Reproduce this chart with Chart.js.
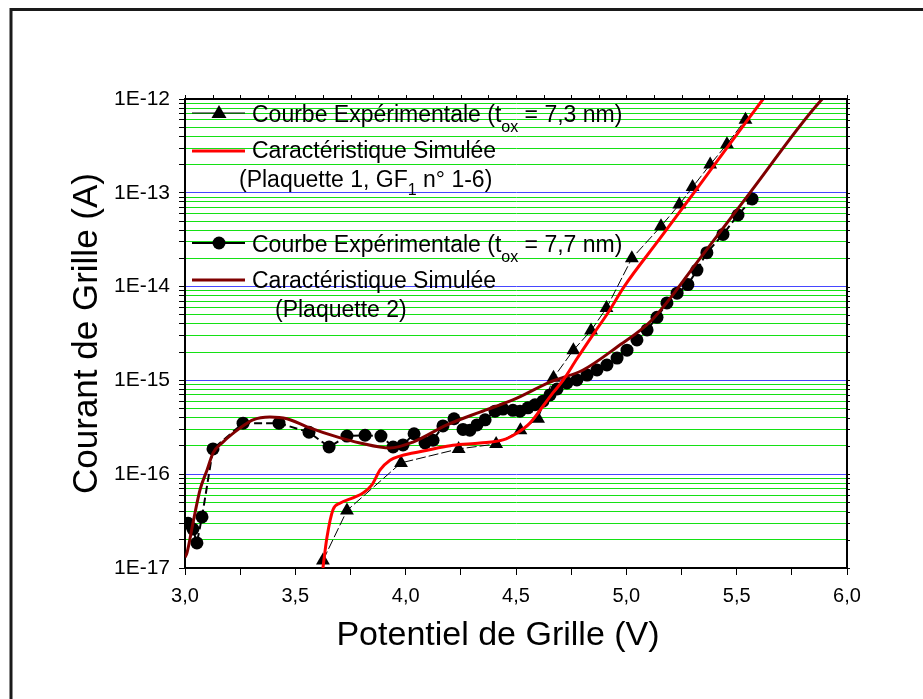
<!DOCTYPE html>
<html>
<head>
<meta charset="utf-8">
<script src="https://cdn.jsdelivr.net/npm/chart.js@4.4.0/dist/chart.umd.min.js"></script>
<style>
  html, body { margin: 0; padding: 0; background: #fff; }
  #wrap { width: 923px; height: 699px; position: relative; }
</style>
</head>
<body>
<div id="wrap"><canvas id="graphe"></canvas></div>
<script>
// Plaquette 1 (tox = 7,3 nm) - points mesures
const vgTri = [3.625, 3.734, 3.979, 4.24, 4.41, 4.52, 4.60, 4.67, 4.76, 4.84, 4.91, 5.025, 5.157, 5.24, 5.30, 5.38, 5.456, 5.54];
const igTri = [1.2e-17, 4.1e-17, 1.32e-16, 1.86e-16, 2.1e-16, 2.95e-16, 3.9e-16, 1.07e-15, 2.1e-15, 3.4e-15, 5.9e-15, 2.0e-14, 4.4e-14, 7.5e-14, 1.15e-13, 2.0e-13, 3.3e-13, 6.0e-13];

// Plaquette 2 (tox = 7,7 nm) - points mesures
const vgRond = [3.014, 3.036, 3.054, 3.077, 3.127, 3.263, 3.426, 3.562, 3.653, 3.734, 3.816, 3.888, 3.943, 3.988, 4.038, 4.088, 4.124, 4.169, 4.219, 4.26,
  4.291, 4.323, 4.36, 4.405, 4.441, 4.486, 4.518, 4.554, 4.586, 4.622, 4.654, 4.686, 4.731, 4.776, 4.822, 4.867, 4.912, 4.958, 5.003, 5.048,
  5.094, 5.139, 5.184, 5.23, 5.279, 5.32, 5.365, 5.438, 5.506, 5.57];
const igRond = [3.0e-17, 2.6e-17, 1.85e-17, 3.5e-17, 1.86e-16, 3.5e-16, 3.5e-16, 2.8e-16, 1.95e-16, 2.55e-16, 2.6e-16, 2.55e-16, 1.95e-16, 2.05e-16, 2.7e-16, 2.15e-16, 2.3e-16, 3.27e-16, 3.9e-16, 3.0e-16,
  2.95e-16, 3.35e-16, 3.8e-16, 4.7e-16, 4.95e-16, 4.8e-16, 4.7e-16, 5.1e-16, 5.5e-16, 6.0e-16, 7.0e-16, 8.1e-16, 9.4e-16, 1.01e-15, 1.14e-15, 1.29e-15, 1.46e-15, 1.73e-15, 2.1e-15, 2.7e-15,
  3.45e-15, 4.7e-15, 6.7e-15, 8.5e-15, 1.05e-14, 1.5e-14, 2.3e-14, 3.6e-14, 5.8e-14, 8.6e-14];

// Caracteristique simulee, plaquette 1
const vgSim1 = [3.625, 3.643, 3.671, 3.702, 3.761, 3.807, 3.847, 3.884, 3.929, 3.974, 4.033, 4.124, 4.214, 4.337, 4.441, 4.505, 4.563, 4.622, 4.668, 4.713, 4.776, 4.85, 4.92, 4.99, 5.15, 5.306, 5.47, 5.62, 5.66];
const igSim1 = [1.0e-17, 2.1e-17, 4.2e-17, 4.9e-17, 5.6e-17, 6.3e-17, 7.7e-17, 1.11e-16, 1.41e-16, 1.56e-16, 1.68e-16, 1.86e-16, 2.04e-16, 2.15e-16, 2.32e-16, 2.75e-16, 3.5e-16, 5.3e-16, 7.4e-16, 1.0e-15, 1.7e-15, 3.1e-15, 5.4e-15, 1.0e-14, 3.2e-14, 1.0e-13, 3.35e-13, 1.0e-12, 1.35e-12];

// Caracteristique simulee, plaquette 2
const vgSim2 = [3.0, 3.009, 3.036, 3.068, 3.10, 3.127, 3.172, 3.249, 3.308, 3.385, 3.462, 3.553, 3.689, 3.793, 3.929, 4.033, 4.187, 4.337, 4.486, 4.654, 4.804, 4.958, 5.116, 5.334, 5.56, 5.891, 5.95];
const igSim2 = [1.3e-17, 1.45e-17, 3.0e-17, 6.8e-17, 1.11e-16, 1.68e-16, 2.2e-16, 3.1e-16, 3.8e-16, 4.07e-16, 3.9e-16, 3.2e-16, 2.5e-16, 2.15e-16, 1.9e-16, 2.2e-16, 3.35e-16, 4.6e-16, 6.2e-16, 9.6e-16, 1.29e-15, 2.27e-15, 4.4e-15, 2.0e-14, 1.0e-13, 1.02e-12, 1.35e-12];

// Axes
const vgMin = 3, vgMax = 6;
const igMin = 1e-17, igMax = 1e-12;
const decades = [-17, -16, -15, -14, -13];
const mantisses = [1, 2, 3, 4, 5, 6, 7, 8, 9];

const FONTE = '"Liberation Sans", Arial, sans-serif';

function points(xs, ys) {
  return xs.map((x, i) => ({ x: x, y: ys[i] }));
}

function estDecade(v) {
  const l = Math.log10(v);
  return Math.abs(l - Math.round(l)) < 1e-6;
}

// graduations du courant : 1..9 x 10^n, plus 1E-12
const ticksCourant = [];
decades.forEach(e => mantisses.forEach(m => ticksCourant.push(m * Math.pow(10, e))));
ticksCourant.push(igMax);

// cadre de la figure, bords haut/droite du graphe, petits tirets, titre X
const cadrePlugin = {
  id: 'cadre',
  afterDraw(chart) {
    const ctx = chart.ctx;
    const a = chart.chartArea;
    ctx.save();
    ctx.strokeStyle = '#1a1a1a';
    ctx.lineWidth = 3;
    ctx.beginPath();
    ctx.moveTo(11, 699);
    ctx.lineTo(11, 9.5);
    ctx.lineTo(923, 9.5);
    ctx.stroke();

    ctx.strokeStyle = '#000';
    ctx.lineWidth = 2;
    ctx.beginPath();
    ctx.moveTo(a.left, a.top);
    ctx.lineTo(a.right, a.top);
    ctx.lineTo(a.right, a.bottom);
    ctx.stroke();

    ctx.lineWidth = 1;
    const sx = chart.scales.x, sy = chart.scales.y;
    ctx.beginPath();
    for (let v = vgMin; v <= vgMax + 1e-9; v += 0.125) {
      const px = Math.round(sx.getPixelForValue(v)) + 0.5;
      ctx.moveTo(px, a.top);
      ctx.lineTo(px, a.top - 4);
    }
    sy.ticks.forEach(t => {
      const py = Math.round(sy.getPixelForValue(t.value)) + 0.5;
      ctx.moveTo(a.right, py);
      ctx.lineTo(a.right + 3, py);
    });
    ctx.stroke();

    ctx.fillStyle = '#000';
    ctx.font = '34px ' + FONTE;
    ctx.textAlign = 'center';
    ctx.textBaseline = 'middle';
    ctx.fillText('Potentiel de Grille (V)', 498, 636);
    ctx.restore();
  }
};

// legende dessinee a la main (indices ox et 1)
const legendePlugin = {
  id: 'legende',
  afterDatasetsDraw(chart) {
    const ctx = chart.ctx;
    ctx.save();
    ctx.fillStyle = '#000';
    ctx.textBaseline = 'alphabetic';
    ctx.textAlign = 'left';

    function texte(parts, x, y) {
      parts.forEach(p => {
        ctx.font = (p.sub ? '16px ' : '23px ') + FONTE;
        ctx.fillText(p.t, x, y + (p.sub ? p.sub : 0));
        x += ctx.measureText(p.t).width;
      });
    }
    function trait(y, couleur, ep) {
      ctx.strokeStyle = couleur;
      ctx.lineWidth = ep;
      ctx.beginPath();
      ctx.moveTo(192, y);
      ctx.lineTo(245, y);
      ctx.stroke();
    }

    trait(113, '#000', 1);
    ctx.beginPath();
    ctx.moveTo(219, 105);
    ctx.lineTo(226.5, 118);
    ctx.lineTo(211.5, 118);
    ctx.closePath();
    ctx.fill();
    texte([{ t: 'Courbe Expérimentale (t' }, { t: 'ox', sub: 10 }, { t: ' = 7,3 nm)' }], 252, 122);

    trait(151, 'rgb(255,0,0)', 3);
    texte([{ t: 'Caractéristique Simulée' }], 252, 158);
    texte([{ t: '(Plaquette 1, GF' }, { t: '1', sub: 8 }, { t: ' n° 1-6)' }], 239, 187);

    trait(243, '#000', 2);
    ctx.beginPath();
    ctx.arc(219, 243, 6.5, 0, Math.PI * 2);
    ctx.fill();
    texte([{ t: 'Courbe Expérimentale (t' }, { t: 'ox', sub: 10 }, { t: ' = 7,7 nm)' }], 252, 252);

    trait(280, 'rgb(128,0,0)', 3);
    texte([{ t: 'Caractéristique Simulée' }], 252, 288);
    texte([{ t: '(Plaquette 2)' }], 275, 317);
    ctx.restore();
  }
};

const ctx = document.getElementById('graphe').getContext('2d');

new Chart(ctx, {
  type: 'scatter',
  data: {
    datasets: [{
      label: 'Caractéristique Simulée (Plaquette 1)',
      data: points(vgSim1, igSim1),
      showLine: true,
      borderColor: 'rgb(255,0,0)',
      borderWidth: 3,
      pointRadius: 0,
      cubicInterpolationMode: 'monotone',
      order: 0
    }, {
      label: 'Caractéristique Simulée (Plaquette 2)',
      data: points(vgSim2, igSim2),
      showLine: true,
      borderColor: 'rgb(128,0,0)',
      borderWidth: 3,
      pointRadius: 0,
      cubicInterpolationMode: 'monotone',
      order: 1
    }, {
      label: 'Courbe Expérimentale (tox = 7,3 nm)',
      data: points(vgTri, igTri),
      showLine: true,
      borderColor: '#000',
      borderWidth: 1,
      borderDash: [10, 3],
      pointStyle: 'triangle',
      pointRadius: 8,
      pointBackgroundColor: '#000',
      pointBorderColor: '#000',
      pointBorderWidth: 0,
      order: 2
    }, {
      label: 'Courbe Expérimentale (tox = 7,7 nm)',
      data: points(vgRond, igRond),
      showLine: true,
      borderColor: '#000',
      borderWidth: 2,
      borderDash: [8, 4],
      pointStyle: 'circle',
      pointRadius: 6.5,
      pointBackgroundColor: '#000',
      pointBorderColor: '#000',
      pointBorderWidth: 0,
      order: 3
    }]
  },
  options: {
    responsive: true,
    maintainAspectRatio: false,
    animation: false,
    layout: { padding: { left: 0, top: 99, right: 76, bottom: 0 } },
    plugins: {
      legend: { display: false },
      tooltip: { enabled: false }
    },
    scales: {
      x: {
        type: 'linear',
        min: vgMin,
        max: vgMax,
        afterFit: s => { s.height = 131; },
        border: { display: true, color: '#000', width: 2 },
        grid: { drawOnChartArea: false, color: '#000', tickColor: '#000', tickLength: 7 },
        ticks: {
          stepSize: 0.25,
          autoSkip: false,
          maxRotation: 0,
          padding: 9,
          color: '#000',
          font: { family: FONTE, size: 20 },
          callback: v => Math.abs(v * 2 - Math.round(v * 2)) < 1e-9 ? v.toFixed(1).replace('.', ',') : ''
        }
      },
      y: {
        type: 'logarithmic',
        min: igMin,
        max: igMax,
        afterFit: s => { s.width = 185; },
        afterBuildTicks: s => { s.ticks = ticksCourant.map(v => ({ value: v })); },
        border: { display: true, color: '#000', width: 2 },
        grid: {
          color: c => (c.tick && estDecade(c.tick.value)) ? 'rgb(70,70,255)' : 'rgb(20,225,20)',
          lineWidth: 1,
          tickColor: '#000',
          tickLength: 6
        },
        ticks: {
          autoSkip: false,
          padding: 9,
          color: '#000',
          font: { family: FONTE, size: 21 },
          callback: v => estDecade(v) ? '1E' + Math.round(Math.log10(v)) : ''
        },
        title: {
          display: true,
          text: 'Courant de Grille (A)',
          color: '#000',
          font: { family: FONTE, size: 35 },
          padding: { top: 66, bottom: 0 }
        }
      }
    }
  },
  plugins: [cadrePlugin, legendePlugin]
});
</script>
</body>
</html>
